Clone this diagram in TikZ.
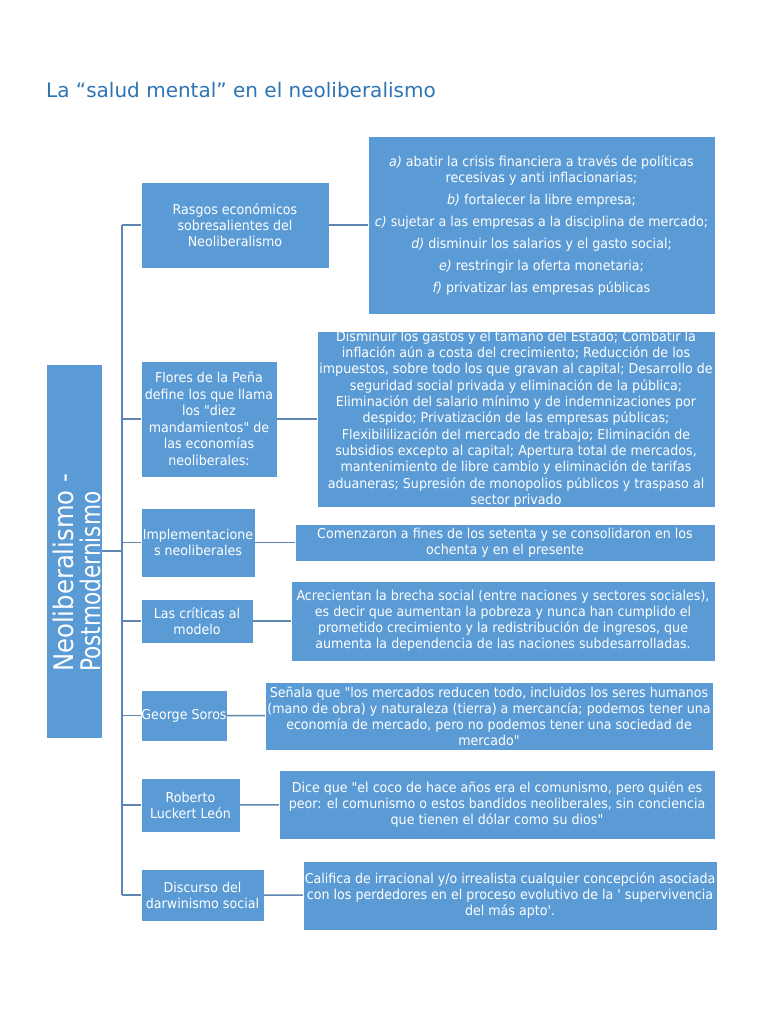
\documentclass[tikz,border=0pt]{standalone}
\usepackage{fontspec}
\setmainfont{DejaVu Sans}[Ligatures=TeXOff]
\newfontfamily\bodyfont{DejaVu Sans}[FakeStretch=0.93,Ligatures=TeXOff]
\newfontfamily\bigfont{DejaVu Sans}[FakeStretch=0.9,Ligatures=TeXOff]
\newfontfamily\bigfontnarrow{DejaVu Sans}[FakeStretch=0.8,Ligatures=TeXOff]
\definecolor{boxblue}{HTML}{5B9BD5}
\definecolor{lineblue}{HTML}{5F86B0}
\definecolor{titleblue}{HTML}{2E74B5}
\begin{document}
\begin{tikzpicture}[x=1pt,y=-1pt,
  box/.style={fill=boxblue, draw=white, line width=0.4pt, text=white, align=center, inner sep=0pt,
    font=\bodyfont\fontsize{13.6}{16}\selectfont},
  conn/.style={draw=lineblue, line width=1.4pt}]
\useasboundingbox (0,0) rectangle (768,1024);

\node[anchor=base west, text=titleblue, font=\fontsize{20}{22}\selectfont, inner sep=0pt] (title) at (46,98) {La “salud mental” en el neoliberalismo};

% main box
\node[box, minimum width=56, minimum height=374] (m) at (74,551) {};
\node[rotate=90, anchor=west, align=left, text=white, inner sep=0pt,
  font=\bigfont\fontsize{27}{27}\selectfont] (mt) at (77,672) {Neoliberalismo -\\{\bigfontnarrow Postmodernismo}};

% level-1 boxes
\node[box, minimum width=188, minimum height=86] (r1) at (235,225) {Rasgos económicos\\sobresalientes del\\Neoliberalismo};
\node[box, minimum width=136, minimum height=116, font=\bodyfont\fontsize{13.6}{16.5}\selectfont] (r2) at (209,419) {Flores de la Peña\\define los que llama\\los "diez\\mandamientos" de\\las economías\\neoliberales:};
\node[box, minimum width=114, minimum height=69] (r3) at (198,542.5) {Implementacione\\s neoliberales};
\node[box, minimum width=112, minimum height=44] (r4) at (197,621) {Las críticas al\\modelo};
\node[box, minimum width=86, minimum height=51] (r5) at (184,715.5) {George Soros};
\node[box, minimum width=99, minimum height=54] (r6) at (190.5,805) {Roberto\\Luckert León};
\node[box, minimum width=123, minimum height=52] (r7) at (202.5,895) {Discurso del\\darwinismo social};

% level-2 boxes
\node[box, minimum width=347, minimum height=178] (d1) at (541.5,225) {%
\textit{a)} abatir la crisis financiera a través de políticas\\
recesivas y anti inflacionarias;\\[6pt]
\textit{b)} fortalecer la libre empresa;\\[6pt]
\textit{c)} sujetar a las empresas a la disciplina de mercado;\\[6pt]
\textit{d)} disminuir los salarios y el gasto social;\\[6pt]
\textit{e)} restringir la oferta monetaria;\\[6pt]
\textit{f)} privatizar las empresas públicas};

\node[box, minimum width=398, minimum height=168, font=\bodyfont\fontsize{13.6}{16.3}\selectfont] (d2) at (516,419) {%
Disminuir los gastos y el tamaño del Estado; Combatir la\\
inflación aún a costa del crecimiento; Reducción de los\\
impuestos, sobre todo los que gravan al capital; Desarrollo de\\
seguridad social privada y eliminación de la pública;\\
Eliminación del salario mínimo y de indemnizaciones por\\
despido; Privatización de las empresas públicas;\\
Flexibililización del mercado de trabajo; Eliminación de\\
subsidios excepto al capital; Apertura total de mercados,\\
mantenimiento de libre cambio y eliminación de tarifas\\
aduaneras; Supresión de monopolios públicos y traspaso al\\
sector privado};

\node[box, minimum width=420, minimum height=37] (d3) at (505,542.5) {Comenzaron a fines de los setenta y se consolidaron en los\\ochenta y en el presente};
\node[box, minimum width=424, minimum height=80] (d4) at (503,621) {Acrecientan la brecha social (entre naciones y sectores sociales),\\es decir que aumentan la pobreza y nunca han cumplido el\\prometido crecimiento y la redistribución de ingresos, que\\aumenta la dependencia de las naciones subdesarrolladas.};
\node[box, minimum width=448, minimum height=68] (d5) at (489,716) {Señala que "los mercados reducen todo, incluidos los seres humanos\\(mano de obra) y naturaleza (tierra) a mercancía; podemos tener una\\economía de mercado, pero no podemos tener una sociedad de\\mercado"};
\node[box, minimum width=436, minimum height=69] (d6) at (497,804.5) {Dice que "el coco de hace años era el comunismo, pero quién es\\peor: el comunismo o estos bandidos neoliberales, sin conciencia\\que tienen el dólar como su dios"};
\node[box, minimum width=414, minimum height=69] (d7) at (510,895.5) {Califica de irracional y/o irrealista cualquier concepción asociada\\con los perdedores en el proceso evolutivo de la ' supervivencia\\del más apto'.};

% tree connectors
\coordinate (vtop) at (122,225);
\coordinate (vbot) at (122,895);
\draw[conn] (vtop) -- (vbot);
\draw[conn] (m.east) -- (m.east -| vtop);
\foreach \n in {r1,r2,r3,r4,r5,r6,r7}{
  \draw[conn] (\n.west -| vtop) -- (\n.west);
}
\draw[conn] (r1) -- (d1);
\draw[conn] (r2.east) -- (r2.east -| d2.west);
\draw[conn] (r3) -- (d3);
\draw[conn] (r4) -- (d4);
\draw[conn] (r5) -- (d5);
\draw[conn] (r6) -- (d6);
\draw[conn] (r7) -- (d7);
\end{tikzpicture}
\end{document}
